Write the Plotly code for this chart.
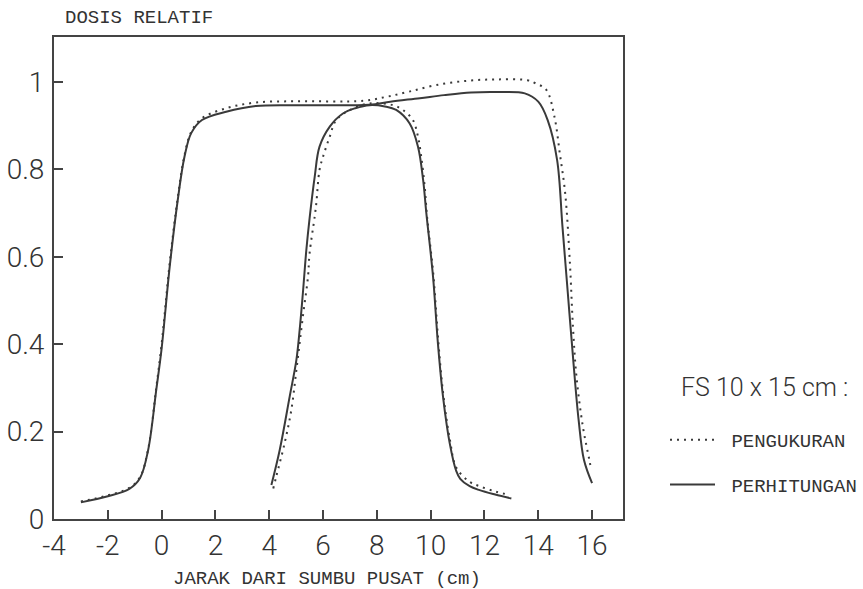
import plotly.graph_objects as go

# ---- data ----
long_x_meas = [-3.0, -2.0, -1.2, -0.8, -0.5, -0.2, 0.0, 0.3, 0.6, 0.85, 1.1, 1.5, 2.4, 3.5,
               5.0, 7.5, 8.35, 9.2, 10.2, 11.4, 12.5, 13.6, 13.9, 14.3, 14.6, 14.8, 15.0,
               15.17, 15.29, 15.42, 15.66, 15.9, 15.97]
long_y_meas = [0.040, 0.054, 0.071, 0.096, 0.160, 0.300, 0.400, 0.585, 0.735, 0.832, 0.886,
               0.917, 0.940, 0.953, 0.956, 0.957, 0.966, 0.978, 0.993, 1.003, 1.006, 1.004,
               0.997, 0.982, 0.921, 0.837, 0.746, 0.593, 0.440, 0.326, 0.211, 0.135, 0.112]

long_x_calc = [-3.0, -2.0, -1.2, -0.8, -0.5, -0.2, 0.0, 0.3, 0.6, 0.85, 1.1, 1.5, 2.4, 3.5,
               5.0, 7.7, 8.5, 9.6, 10.5, 11.5, 12.5, 13.5, 14.0, 14.35, 14.7, 14.9, 15.1,
               15.3, 15.5, 15.7, 16.0]
long_y_calc = [0.038, 0.052, 0.069, 0.094, 0.158, 0.295, 0.390, 0.577, 0.730, 0.829, 0.883,
               0.913, 0.932, 0.945, 0.947, 0.948, 0.955, 0.963, 0.970, 0.976, 0.977, 0.974,
               0.955, 0.913, 0.822, 0.669, 0.516, 0.364, 0.227, 0.135, 0.082]

nar_x_meas = [4.15, 4.26, 4.57, 4.82, 5.01, 5.25, 5.44, 5.5, 5.69, 5.75, 5.87, 6.0, 6.25, 6.49,
              7.0, 7.73, 8.6, 8.97, 9.34, 9.53, 9.65, 9.78, 9.87, 10.1, 10.28, 10.47, 10.72,
              10.95, 11.45, 11.82, 12.4, 12.94]
nar_y_meas = [0.070, 0.097, 0.173, 0.249, 0.341, 0.463, 0.554, 0.608, 0.692, 0.722, 0.799,
              0.829, 0.875, 0.913, 0.936, 0.951, 0.947, 0.936, 0.913, 0.875, 0.829, 0.760,
              0.690, 0.560, 0.410, 0.285, 0.180, 0.118, 0.085, 0.075, 0.063, 0.055]

nar_x_calc = [4.08, 4.39, 4.76, 5.01, 5.13, 5.25, 5.38, 5.5, 5.69, 5.87, 6.25, 6.74, 7.2, 7.73,
              8.3, 8.72, 9.22, 9.53, 9.72, 9.84, 10.09, 10.27, 10.46, 10.71, 10.95, 11.1,
              11.45, 11.82, 12.4, 13.0]
nar_y_calc = [0.078, 0.158, 0.280, 0.364, 0.432, 0.516, 0.616, 0.688, 0.783, 0.852, 0.898,
              0.928, 0.940, 0.947, 0.944, 0.936, 0.905, 0.852, 0.776, 0.700, 0.554, 0.402,
              0.280, 0.173, 0.110, 0.092, 0.075, 0.066, 0.056, 0.047]

x_ticks = [-4, -2, 0, 2, 4, 6, 8, 10, 12, 14, 16]
x_tick_text = ["-4", "-2", "0", "2", "4", "6", "8", "10", "12", "14", "16"]
y_ticks = [0, 0.2, 0.4, 0.6, 0.8, 1]
y_tick_text = ["0", "0.2", "0.4", "0.6", "0.8", "1"]

THIN = "Roboto, Lato, Liberation Sans, sans-serif"
MONO = "Liberation Mono, DejaVu Sans Mono, monospace"
INK = "#3a3a3a"

fig = go.Figure()
meas_line = dict(color=INK, width=2, dash="2px,5px")
calc_line = dict(color=INK, width=2)

fig.add_trace(go.Scatter(x=long_x_meas, y=long_y_meas, mode="lines", line=meas_line,
                         line_shape="spline", name="\u00a0PENGUKURAN",
                         legendgroup="m", showlegend=True))
fig.add_trace(go.Scatter(x=nar_x_meas, y=nar_y_meas, mode="lines", line=meas_line,
                         line_shape="spline", legendgroup="m", showlegend=False))
fig.add_trace(go.Scatter(x=long_x_calc, y=long_y_calc, mode="lines", line=calc_line,
                         line_shape="spline", name="\u00a0PERHITUNGAN",
                         legendgroup="c", showlegend=True))
fig.add_trace(go.Scatter(x=nar_x_calc, y=nar_y_calc, mode="lines", line=calc_line,
                         line_shape="spline", legendgroup="c", showlegend=False))

tick_font = dict(family=THIN, size=28, color="#333", weight=300)
axis_common = dict(showgrid=False, zeroline=False, showline=True, mirror=True,
                   linecolor="#444", linewidth=2, ticks="inside", ticklen=9,
                   tickwidth=1.5, tickcolor="#444", automargin=False, tickfont=tick_font)

fig.update_layout(
    width=863, height=589,
    margin=dict(l=54, r=240, t=37, b=70, autoexpand=False),
    paper_bgcolor="white", plot_bgcolor="white",
    xaxis=dict(range=[-4.0, 17.15], tickvals=x_ticks, ticktext=x_tick_text,
               ticklabelstandoff=0, **axis_common),
    yaxis=dict(range=[0, 1.103], tickvals=y_ticks, ticktext=y_tick_text,
               ticklabelstandoff=2, **axis_common),
    legend=dict(x=(665 - 54) / 569, y=(519 - 421) / 482, xanchor="left", yanchor="top",
                font=dict(family=MONO, size=19, color="#333"),
                tracegroupgap=17, itemwidth=45, bgcolor="rgba(0,0,0,0)"),
    showlegend=True,
    annotations=[
        dict(text="DOSIS RELATIF", xref="paper", yref="paper", x=(63 - 54) / 569,
             y=(519 - 18) / 482, xanchor="left", yanchor="middle", showarrow=False,
             font=dict(family=MONO, size=19, color="#333")),
        dict(text="JARAK DARI SUMBU PUSAT (cm)", xref="paper", yref="paper",
             x=(327 - 54) / 569, y=(519 - 579) / 482, xanchor="center", yanchor="middle",
             showarrow=False, font=dict(family=MONO, size=19, color="#333")),
        dict(text="FS 10 x 15 cm :", xref="paper", yref="paper", x=(679 - 54) / 569,
             y=(519 - 387) / 482, xanchor="left", yanchor="middle", showarrow=False,
             font=dict(family=THIN, size=25, color="#333", weight=300)),
    ],
)

fig.write_html("out.html")
